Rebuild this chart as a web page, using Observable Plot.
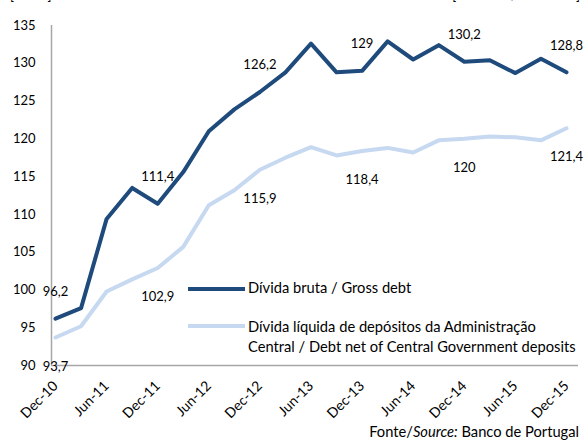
<!DOCTYPE html>
<html>
<head>
<meta charset="utf-8">
<script src="https://cdn.jsdelivr.net/npm/d3@7"></script>
<script src="https://cdn.jsdelivr.net/npm/@observablehq/plot@0.6"></script>
<style>
  html, body { margin: 0; padding: 0; background: #fff; }
  #wrap { position: relative; width: 583px; height: 441px; overflow: hidden; font-family: Lato, "Open Sans", sans-serif; font-size: 13px; color: #000; }
  #chart svg { display: block; overflow: visible; }
  #chart svg g[aria-label="x-axis tick label"] text { font-size: 14px; }
  .hdr { position: absolute; top: -13px; font-size: 13px; color: #000; white-space: nowrap; }
  .leg { position: absolute; white-space: nowrap; line-height: 20px; font-size: 14.7px; }
  .sw { position: absolute; height: 4px; width: 57px; }
  #source { position: absolute; right: 4px; top: 421px; line-height: 20px; font-size: 14.7px; background: transparent; }
</style>
</head>
<body>
<div id="wrap">
  <div id="chart"></div>
  <div class="hdr" style="left:10px">[% PIB]</div>
  <div class="hdr" style="right:3px">[% do PIB / % of GDP]</div>
  <div class="sw" style="left:188px; top:287px; background:#1f4a7c"></div>
  <div class="leg" style="left:248px; top:277px">Dívida bruta / Gross debt</div>
  <div class="sw" style="left:188px; top:324px; background:#c6d9f1"></div>
  <div class="leg" style="left:248px; top:316px">Dívida líquida de depósitos da Administração<br>Central / Debt net of Central Government deposits</div>
  <div id="source">Fonte/<i>Source:</i> Banco de Portugal</div>
</div>
<script>
const quarters = ["Dec-10","Mar-11","Jun-11","Sep-11","Dec-11","Mar-12","Jun-12","Sep-12","Dec-12","Mar-13","Jun-13","Sep-13","Dec-13","Mar-14","Jun-14","Sep-14","Dec-14","Mar-15","Jun-15","Sep-15","Dec-15"];
const grossDebt = [96.2, 97.6, 109.4, 113.5, 111.4, 115.6, 121.0, 123.9, 126.2, 128.8, 132.6, 128.8, 129.0, 132.9, 130.5, 132.4, 130.2, 130.4, 128.7, 130.6, 128.8];
const netDebt   = [93.7, 95.2, 99.8, 101.4, 102.9, 105.7, 111.2, 113.2, 115.9, 117.5, 118.9, 117.8, 118.4, 118.8, 118.2, 119.8, 120.0, 120.3, 120.2, 119.8, 121.4];
const tickLabels = ["Dec-10","Jun-11","Dec-11","Jun-12","Dec-12","Jun-13","Dec-13","Jun-14","Dec-14","Jun-15","Dec-15"];
const labelledQuarters = ["Dec-10","Dec-11","Dec-12","Dec-13","Dec-14","Dec-15"];
const yTicks = [90, 95, 100, 105, 110, 115, 120, 125, 130, 135];

const data = quarters.map((q, i) => ({i, q, gross: grossDebt[i], net: netDebt[i]}));
const labelled = data.filter(d => labelledQuarters.includes(d.q));
const fmt = v => String(v).replace(".", ",");
const tickIdx = tickLabels.map(t => quarters.indexOf(t));
const xDomain = [-0.157, quarters.length - 1 + 0.47];

const chart = Plot.plot({
  width: 583,
  height: 441,
  marginLeft: 51,
  marginRight: 5,
  marginTop: 25,
  marginBottom: 76,
  style: {fontFamily: "Lato, 'Open Sans', sans-serif", fontSize: "13px", color: "#000", background: "transparent"},
  x: {type: "linear", domain: xDomain, ticks: tickIdx, tickFormat: i => quarters[i], tickRotate: -45, tickSize: 0, tickPadding: 18, label: null},
  y: {domain: [90, 135], ticks: yTicks, tickSize: 0, tickPadding: 16, label: null},
  marks: [
    Plot.ruleY([90], {stroke: "#a6a6a6", strokeWidth: 1.5}),
    Plot.ruleX([xDomain[0]], {stroke: "#a6a6a6", strokeWidth: 1.5}),
    Plot.line(data, {x: "i", y: "net", stroke: "#c6d9f1", strokeWidth: 4}),
    Plot.line(data, {x: "i", y: "gross", stroke: "#1f4a7c", strokeWidth: 4}),
    Plot.text(labelled, {x: "i", y: "gross", text: d => fmt(d.gross), dy: -27, fill: "#000"}),
    Plot.text(labelled, {x: "i", y: "net", text: d => fmt(d.net), dy: 29, fill: "#000"})
  ]
});
document.getElementById("chart").append(chart);
</script>
</body>
</html>
